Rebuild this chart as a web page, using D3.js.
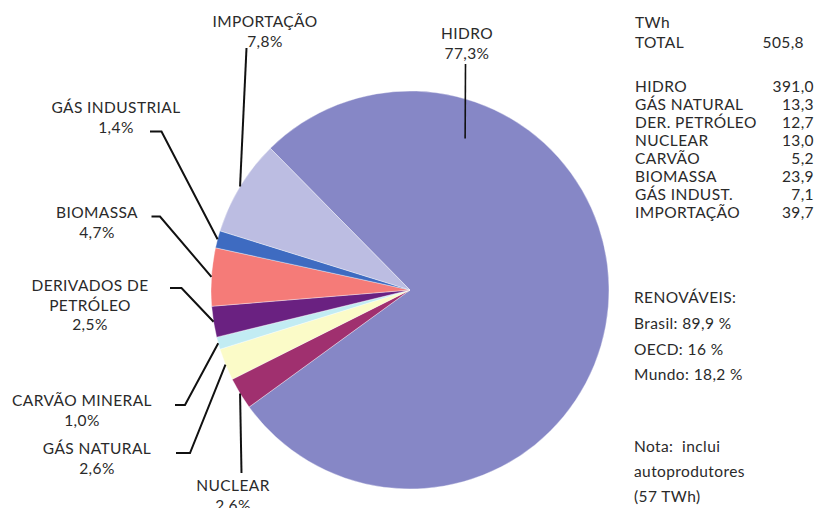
<!DOCTYPE html>
<html>
<head>
<meta charset="utf-8">
<script src="https://cdn.jsdelivr.net/npm/d3@7"></script>
<style>
  html, body { margin: 0; padding: 0; background: #fff; }
  svg { display: block; }
  text { font-family: Lato, "Open Sans", sans-serif; fill: #2a2a2a; letter-spacing: 0.4px; white-space: pre; }
</style>
</head>
<body>
<svg id="chart" width="820" height="508"></svg>
<script>
// Oferta interna de energia elétrica por fonte (participação %)
const categories = ["HIDRO", "NUCLEAR", "GÁS NATURAL", "CARVÃO MINERAL",
  "DERIVADOS DE PETRÓLEO", "BIOMASSA", "GÁS INDUSTRIAL", "IMPORTAÇÃO"];
const shares = [77.3, 2.6, 2.6, 1.0, 2.5, 4.7, 1.4, 7.8];
const labelText = [["HIDRO"], ["NUCLEAR"], ["GÁS NATURAL"], ["CARVÃO MINERAL"],
  ["DERIVADOS DE", "PETRÓLEO"], ["BIOMASSA"], ["GÁS INDUSTRIAL"], ["IMPORTAÇÃO"]];
const sliceColors = ["#8687c6", "#a0306f", "#fbfbc8", "#c2ecf3",
  "#6a2181", "#f57b78", "#3e6bc1", "#bcbde2"];

// Tabela em TWh
const twhTotal = 505.8;
const twhSources = ["HIDRO", "GÁS NATURAL", "DER. PETRÓLEO", "NUCLEAR",
  "CARVÃO", "BIOMASSA", "GÁS INDUST.", "IMPORTAÇÃO"];
const twhValues = [391.0, 13.3, 12.7, 13.0, 5.2, 23.9, 7.1, 39.7];

// Participação de renováveis
const renewRegions = ["Brasil", "OECD", "Mundo"];
const renewShares = [89.9, 16, 18.2];
const noteLines = ["Nota:  inclui", "autoprodutores", "(57 TWh)"];

const svg = d3.select("#chart");
const cx = 410, cy = 290, R = 199;
const deg = Math.PI / 180;
const fontSize = 15.5;
const comma = v => String(v).replace(".", ",");
const pct1 = v => v.toFixed(1).replace(".", ",") + "%";

const pie = d3.pie().sort(null).value(d => d)
  .startAngle(-44.6 * deg).endAngle(315.4 * deg);
const arcs = pie(shares);
const arc = d3.arc().innerRadius(0).outerRadius(R);

const g = svg.append("g").attr("transform", `translate(${cx},${cy})`);
g.selectAll("path.slice").data(arcs).join("path")
  .attr("class", "slice")
  .attr("d", arc)
  .attr("fill", (d, i) => sliceColors[i])
  .attr("stroke", "#ffffff")
  .attr("stroke-opacity", 0.6)
  .attr("stroke-width", 0.6);

// Posição dos rótulos e cotovelos das linhas de chamada
const placement = [
  { x: 467, y: 39, lead: [[465.5, 64]], tip: { angle: 20, rf: 0.81 } },
  { x: 233, y: 491, lead: [[241.5, 473]] },
  { x: 97, y: 454, lead: [[176, 453], [190, 453]] },
  { x: 82, y: 406, lead: [[175, 405], [185, 405]] },
  { x: 90, y: 291, lead: [[170, 288], [181.5, 288]] },
  { x: 97, y: 218, lead: [[151.5, 216.5], [160, 216.5]] },
  { x: 116, y: 113, lead: [[150, 131.5], [161.5, 131.5]] },
  { x: 265, y: 27, lead: [[246.5, 48]] }
];

const polar = (a, r) => [cx + r * Math.sin(a), cy - r * Math.cos(a)];

arcs.forEach((d, i) => {
  const p = placement[i];
  const tip = p.tip
    ? polar(p.tip.angle * deg, p.tip.rf * R)
    : polar((d.startAngle + d.endAngle) / 2, R);
  const pts = p.lead.concat([tip]);
  svg.append("path")
    .attr("d", d3.line()(pts))
    .attr("fill", "none")
    .attr("stroke", "#111")
    .attr("stroke-width", i === 0 ? 1.6 : 2);

  const t = svg.append("text")
    .attr("text-anchor", "middle")
    .attr("font-size", fontSize);
  const lines = labelText[i].concat([pct1(shares[i])]);
  lines.forEach((s, k) => {
    t.append("tspan").attr("x", p.x)
      .attr("y", p.y + k * 19.5)
      .text(s);
  });
});

// Quadro à direita: valores em TWh
const right = svg.append("g").attr("font-size", fontSize);
right.append("text").attr("x", 635).attr("y", 28).text("TWh");
right.append("text").attr("x", 635).attr("y", 48).text("TOTAL");
right.append("text").attr("x", 804).attr("y", 48)
  .attr("text-anchor", "end").text(comma(twhTotal.toFixed(1)));

const rowY = d3.scaleLinear().domain([0, twhSources.length - 1]).range([92, 218]);
twhSources.forEach((s, i) => {
  right.append("text").attr("x", 635).attr("y", rowY(i)).text(s);
  right.append("text").attr("x", 814).attr("y", rowY(i))
    .attr("text-anchor", "end").text(comma(twhValues[i].toFixed(1)));
});

right.append("text").attr("x", 634).attr("y", 303).text("RENOVÁVEIS:");
renewRegions.forEach((r, i) => {
  right.append("text").attr("x", 634).attr("y", 329 + i * 25.5)
    .text(`${r}: ${comma(renewShares[i])} %`);
});
noteLines.forEach((s, i) => {
  right.append("text").attr("x", 634).attr("y", 452 + i * 25).text(s);
});
</script>
</body>
</html>
